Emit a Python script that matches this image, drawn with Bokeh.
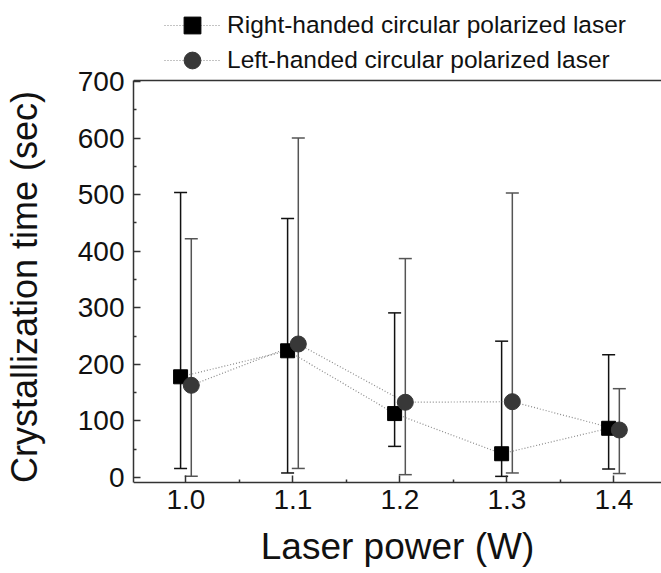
from bokeh.plotting import figure
from bokeh.models import (ColumnDataSource, Whisker, TeeHead, FixedTicker, NumeralTickFormatter,
                          Legend, LegendItem, Range1d, Span)
from bokeh.embed import file_html
from bokeh.resources import INLINE

# ---- data ----
laser_power = [1.0, 1.1, 1.2, 1.3, 1.4]
right_time = [178, 224, 113, 42, 87]
right_upper = [504, 458, 291, 241, 217]
right_lower = [16, 8, 55, 2, 15]
left_time = [163, 236, 133, 134, 84]
left_upper = [422, 600, 387, 503, 157]
left_lower = [2, 16, 5, 8, 7]
series_names = ["Right-handed circular polarized laser", "Left-handed circular polarized laser"]
x_ticks = [1.0, 1.1, 1.2, 1.3, 1.4]
x_minor = [0.95, 1.05, 1.15, 1.25, 1.35, 1.45]
y_ticks = [0, 100, 200, 300, 400, 500, 600, 700]
y_minor = [50, 150, 250, 350, 450, 550, 650]

OFFSET = 0.005
FONT = "Liberation Sans"
# the box spans Y_LOW..Y_BOX_TOP; the frame is taller so the legend and the x labels fit
Y_LOW, Y_BOX_TOP = -8.8, 701.8
Y_VIEW_LOW, Y_VIEW_TOP = -169.7, 843.2

src_r = ColumnDataSource(dict(x=[v - OFFSET for v in laser_power], y=right_time,
                              upper=right_upper, lower=right_lower))
src_l = ColumnDataSource(dict(x=[v + OFFSET for v in laser_power], y=left_time,
                              upper=left_upper, lower=left_lower))

p = figure(width=661, height=573, output_backend="svg", toolbar_location=None,
           x_range=Range1d(0.951, 1.4444), y_range=Range1d(Y_VIEW_LOW, Y_VIEW_TOP),
           min_border_left=127, min_border_right=0, min_border_top=0, min_border_bottom=0)
p.outline_line_color = None
p.grid.visible = False
p.background_fill_color = "white"

# top border of the box
p.add_layout(Span(location=Y_BOX_TOP, dimension="width", line_color="#333333", line_width=1.5))

# error bars
for src, col in ((src_r, "#111111"), (src_l, "#555555")):
    w = Whisker(base="x", upper="upper", lower="lower", source=src, dimension="height",
                line_color=col, line_width=1.5,
                upper_head=TeeHead(size=13, line_color=col, line_width=1.5),
                lower_head=TeeHead(size=13, line_color=col, line_width=1.5))
    p.add_layout(w)

lr = p.line("x", "y", source=src_r, line_color="#8a8a8a", line_width=1.2, line_dash="1 2")
ll = p.line("x", "y", source=src_l, line_color="#8a8a8a", line_width=1.2, line_dash="1 2")
sr = p.scatter("x", "y", source=src_r, marker="square", size=14, fill_color="black", line_color="black")
sl = p.scatter("x", "y", source=src_l, marker="circle", size=16, fill_color="#383838", line_color="#383838")

common = dict(glyph_width=56, glyph_height=42, spacing=0, padding=0, margin=0, label_standoff=7,
              label_text_font_size="24.5px", label_text_font=FONT, label_text_color="#111111",
              border_line_color=None, background_fill_alpha=0)
leg1 = Legend(items=[LegendItem(label=series_names[0], renderers=[lr, sr])], location=(31, 527), **common)
leg2 = Legend(items=[LegendItem(label=series_names[1], renderers=[ll, sl])], location=(31, 492), **common)
p.add_layout(leg1)
p.add_layout(leg2)

# axes
for ax in (p.xaxis[0], p.yaxis[0]):
    ax.axis_line_color = "#333333"
    ax.axis_line_width = 1.5
    ax.major_tick_line_color = "#333333"
    ax.major_tick_line_width = 1.5
    ax.minor_tick_line_color = "#333333"
    ax.minor_tick_line_width = 1.5
    ax.major_tick_in = 7
    ax.major_tick_out = 0
    ax.minor_tick_in = 3
    ax.minor_tick_out = 0
    ax.major_label_text_font = FONT
    ax.major_label_text_font_size = "28px"
    ax.major_label_text_color = "#111111"
    ax.axis_label_text_font = FONT
    ax.axis_label_text_font_style = "normal"
    ax.axis_label_text_color = "#111111"

p.xaxis.ticker = FixedTicker(ticks=x_ticks, minor_ticks=x_minor)
p.xaxis.formatter = NumeralTickFormatter(format="0.0")
p.xaxis.fixed_location = Y_LOW
p.xaxis.axis_label = "Laser power (W)"
p.xaxis.axis_label_text_font_size = "37px"
p.xaxis.major_label_standoff = 8
p.xaxis.axis_label_standoff = 13

p.yaxis.ticker = FixedTicker(ticks=y_ticks, minor_ticks=y_minor)
p.yaxis.bounds = (Y_LOW, Y_BOX_TOP)
p.yaxis.axis_label = "Crystallization time (sec)"
p.yaxis.axis_label_text_font_size = "36px"
p.yaxis.major_label_standoff = 9
p.yaxis.axis_label_standoff = 30

open("out.html", "w").write(file_html(p, INLINE))
